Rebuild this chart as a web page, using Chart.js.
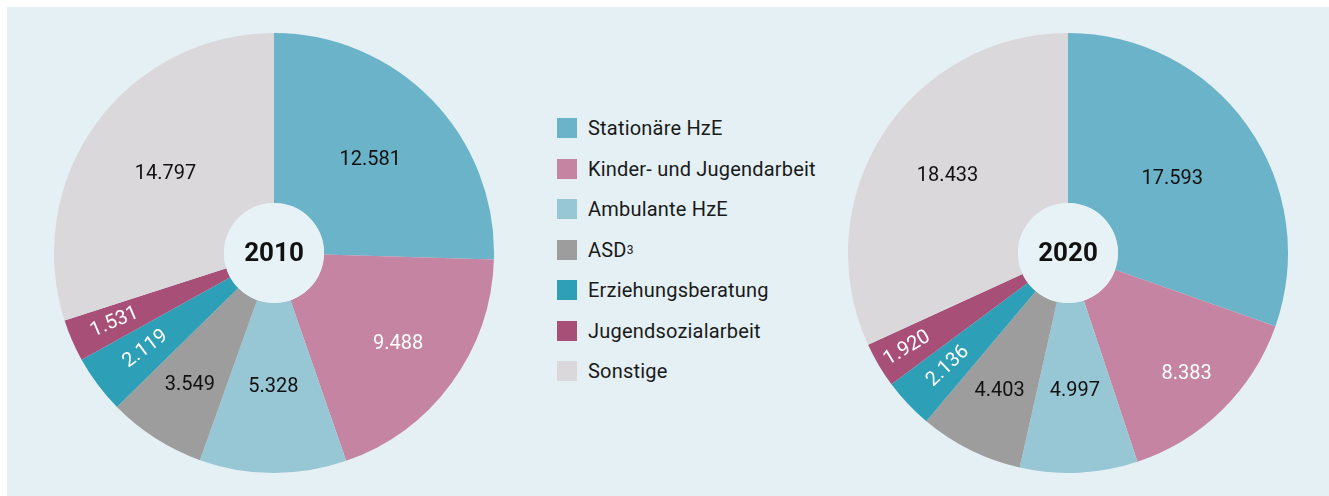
<!DOCTYPE html>
<html>
<head>
<meta charset="utf-8">
<script src="https://cdn.jsdelivr.net/npm/chart.js@4/dist/chart.umd.min.js"></script>
<style>
  html, body { margin: 0; padding: 0; background: #fff; }
  body { width: 1329px; height: 496px; position: relative; overflow: hidden; font-family: Roboto, "Liberation Sans", sans-serif; }
  .panel { position: absolute; left: 7px; top: 7px; width: 1322px; height: 489px; background: #e4f0f4; }
  .pie { position: absolute; top: 33px; width: 440px; height: 440px; }
  #pie1 { left: 54px; }
  #pie2 { left: 848px; }
  .legend { position: absolute; left: 557px; top: 108px; }
  .legend .row { height: 40.5px; display: flex; align-items: center; font-size: 20px; letter-spacing: 0.2px; color: #1a1a1a; }
  .legend .box { width: 20px; height: 20px; margin-right: 11px; }
  sup { font-size: 12px; vertical-align: 8px; }
</style>
</head>
<body>
<div class="panel"></div>
<div class="pie" id="pie1"><canvas id="chart2010"></canvas></div>
<div class="pie" id="pie2"><canvas id="chart2020"></canvas></div>
<div class="legend" id="legend"></div>
<script>
const categories = ['Stationäre HzE', 'Kinder- und Jugendarbeit', 'Ambulante HzE', 'ASD', 'Erziehungsberatung', 'Jugendsozialarbeit', 'Sonstige'];
const values2010 = [12581, 9488, 5328, 3549, 2119, 1531, 14797];
const values2020 = [17593, 8383, 4997, 4403, 2136, 1920, 18433];

const colors = ['#6bb3c8', '#c585a2', '#97c6d5', '#9d9d9d', '#2da0b8', '#a84f78', '#dad8da'];
const labelColors = ['#111', '#fff', '#111', '#111', '#fff', '#fff', '#111'];
// label distance from centre, as a share of the outer radius
const labelPos2010 = [0.61, 0.70, 0.61, 0.71, 0.73, 0.79, 0.61];
const labelPos2020 = [0.58, 0.77, 0.63, 0.70, 0.75, 0.85, 0.65];

// legend
const legend = document.getElementById('legend');
categories.forEach((c, i) => {
    const row = document.createElement('div');
    row.className = 'row';
    row.innerHTML = '<span class="box" style="background:' + colors[i] + '"></span>' +
        (c === 'ASD' ? 'ASD<sup>3</sup>' : c);
    legend.appendChild(row);
});

const fmt = v => v.toLocaleString('de-DE');

const sliceLabels = {
    id: 'sliceLabels',
    afterDatasetsDraw(chart, args, opts) {
        const ctx = chart.ctx;
        const meta = chart.getDatasetMeta(0);
        const data = chart.data.datasets[0].data;
        const total = data.reduce((a, b) => a + b, 0);
        ctx.save();
        ctx.font = '20px Roboto, "Liberation Sans", sans-serif';
        ctx.textAlign = 'center';
        ctx.textBaseline = 'middle';
        meta.data.forEach((arc, i) => {
            const a = (arc.startAngle + arc.endAngle) / 2;
            const r = arc.outerRadius * opts.pos[i];
            const x = arc.x + Math.cos(a) * r;
            const y = arc.y + Math.sin(a) * r;
            ctx.save();
            ctx.translate(x, y);
            if (data[i] / total < 0.05) ctx.rotate(a + Math.PI);
            ctx.fillStyle = labelColors[i];
            ctx.fillText(fmt(data[i]), 0, 0);
            ctx.restore();
        });
        // centre disc with year
        const arc0 = meta.data[0];
        ctx.beginPath();
        ctx.arc(arc0.x, arc0.y, arc0.innerRadius, 0, Math.PI * 2);
        ctx.fillStyle = '#e7f2f6';
        ctx.fill();
        ctx.fillStyle = '#111';
        ctx.font = 'bold 26px Roboto, "Liberation Sans", sans-serif';
        ctx.fillText(opts.year, arc0.x, arc0.y + 1);
        ctx.restore();
    }
};

function makePie(id, values, year, pos) {
    return new Chart(document.getElementById(id).getContext('2d'), {
        type: 'doughnut',
        data: {
            labels: categories,
            datasets: [{
                data: values,
                backgroundColor: colors,
                borderWidth: 0
            }]
        },
        options: {
            responsive: true,
            maintainAspectRatio: false,
            animation: false,
            cutout: 50,
            layout: { padding: 0 },
            plugins: {
                legend: { display: false },
                tooltip: { enabled: false },
                sliceLabels: { year: year, pos: pos }
            }
        },
        plugins: [sliceLabels]
    });
}

const chart2010 = makePie('chart2010', values2010, '2010', labelPos2010);
const chart2020 = makePie('chart2020', values2020, '2020', labelPos2020);
</script>
</body>
</html>
